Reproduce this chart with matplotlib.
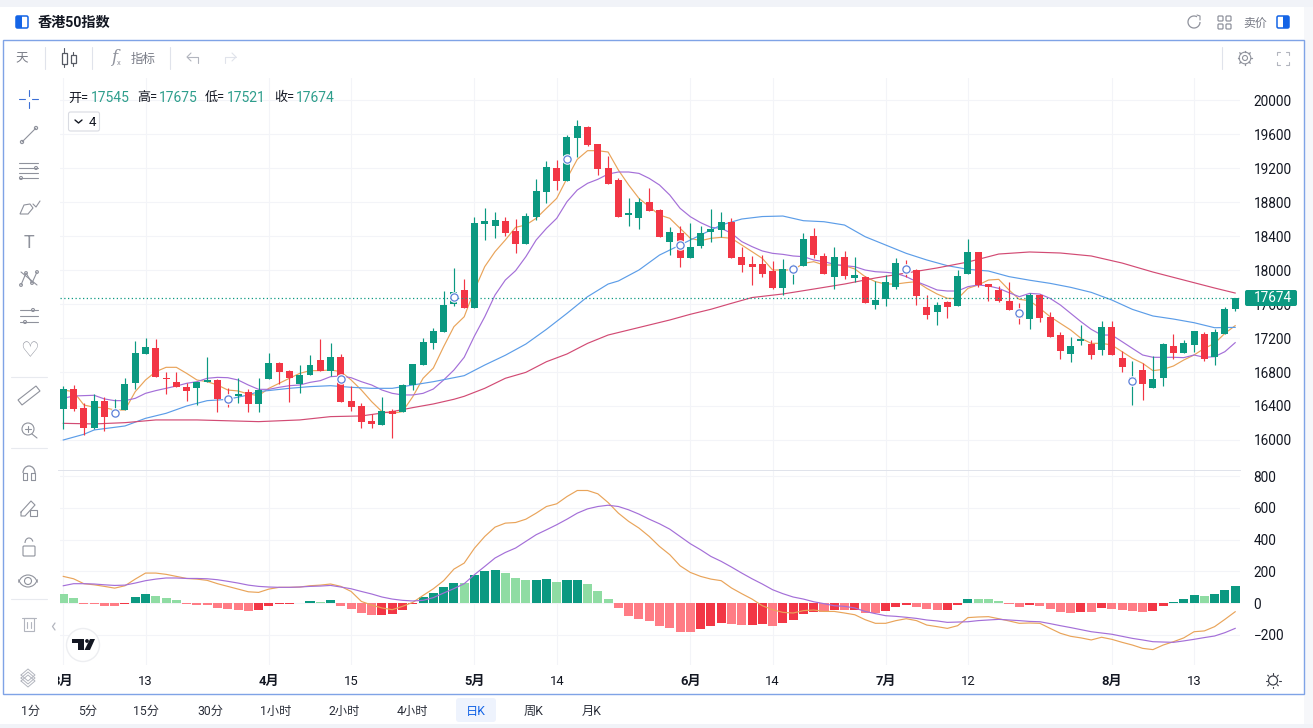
import matplotlib
matplotlib.use('Agg')
import math
import matplotlib.pyplot as plt
from matplotlib.patches import Rectangle, FancyBboxPatch, Circle, Polygon, Arc
from matplotlib.transforms import Bbox

plt.rcParams['font.family'] = ['Roboto', 'Noto Sans CJK SC', 'DejaVu Sans']
plt.rcParams['axes.unicode_minus'] = False

# K-line values
opens = [16369,16596,16377,16141,16459,16283,16353,16675,17008,17082,
         16730,16682,16620,16616,16686,16706,16510,16518,16565,16428,
         16722,16906,16812,16663,16769,16941,16812,16976,16459,16400,
         16220,16177,16341,16334,16647,16886,17141,17270,17600,17765,
         17553,18541,18518,18577,18459,18306,18620,18922,19200,19051,
         19557,19682,19482,19200,19059,18647,18612,18796,18702,18334,
         18432,18145,18283,18443,18471,18565,18153,18071,18071,17992,
         17788,18000,18047,18400,18165,17922,18153,17910,17918,17592,
         17663,17804,18040,18000,17561,17506,17624,17577,17953,18212,
         17835,17769,17635,17480,17423,17706,17447,17235,17012,17165,
         17129,17059,17329,16965,16700,16820,16612,16729,17106,17024,
         17118,17247,16976,17247,17545]
closes = [16596,16369,16141,16459,16275,16353,16659,17024,17094,16741,
          16718,16628,16577,16686,16706,16486,16470,16541,16428,16588,
          16906,16804,16733,16761,16882,16812,16976,16451,16388,16212,
          16188,16341,16302,16647,16894,17153,17282,17588,17741,17553,
          18549,18577,18588,18439,18306,18635,18929,19212,19051,19564,
          19694,19470,19192,19012,18624,18671,18796,18694,18388,18443,
          18145,18271,18432,18479,18561,18145,18059,18040,17953,17788,
          18012,18040,18365,18180,17953,18153,17929,17941,17616,17647,
          17859,18082,18000,17694,17471,17588,17565,17929,18212,17820,
          17800,17635,17530,17430,17706,17439,17216,17051,17106,17192,
          16999,17329,16999,16859,16745,16659,16718,17129,17024,17141,
          17282,16953,17270,17541,17674]
highs = [16635,16643,16432,16541,16502,16479,16730,17165,17200,17188,
         16804,16800,16667,16686,16980,16714,16608,16730,16596,16730,
         17024,16918,16824,16882,17000,17188,17141,17012,16635,16432,
         16306,16502,16361,16659,16894,17200,17320,17753,18023,17894,
         18627,18726,18682,18620,18600,18675,19070,19282,19294,19588,
         19764,19694,19482,19341,19082,18843,18843,18961,18714,18502,
         18522,18557,18522,18714,18678,18608,18267,18165,18180,18106,
         18125,18070,18431,18490,18196,18267,18220,18157,17929,17871,
         17941,18141,18118,18008,17706,17620,17631,18000,18365,18212,
         17835,17812,17859,17608,17733,17717,17502,17274,17216,17353,
         17176,17400,17400,17047,16929,16910,16988,17145,17247,17176,
         17282,17270,17306,17565,17675]
lows = [16134,16345,16063,16126,16110,16267,16353,16596,17008,16741,
        16541,16620,16463,16408,16686,16334,16392,16439,16334,16334,
        16722,16659,16451,16557,16769,16812,16753,16451,16341,16141,
        16141,16177,16024,16334,16588,16886,17066,17270,17576,17553,
        17553,18353,18373,18400,18196,18306,18588,18792,18941,19051,
        19333,19463,19118,19012,18620,18522,18483,18694,18384,18173,
        18032,18145,18255,18334,18384,18137,17980,17824,17922,17773,
        17702,17835,18047,18137,17953,17776,17898,17863,17608,17545,
        17580,17776,17922,17588,17424,17353,17432,17577,17953,17804,
        17635,17624,17530,17365,17310,17392,17216,16953,16922,17118,
        16953,17004,16999,16804,16412,16471,16612,16635,16953,17024,
        17040,16929,16882,17247,17521]

# moving averages
ma_fast = [16588,16569,16412,16385,16381,16353,16353,16569,16706,16804,
           16855,16855,16784,16706,16686,16647,16588,16577,16541,16522,
           16608,16667,16726,16784,16816,16816,16824,16804,16706,16588,
           16451,16334,16314,16334,16510,16726,16847,17098,17333,17450,
           17765,18040,18216,18353,18502,18530,18608,18726,18843,19078,
           19302,19404,19404,19388,19176,19000,18843,18745,18647,18608,
           18490,18373,18345,18373,18384,18373,18294,18216,18137,18000,
           18000,18000,18078,18098,18059,18059,18051,18012,17922,17863,
           17835,17835,17851,17863,17784,17718,17667,17663,17784,17824,
           17882,17890,17765,17655,17639,17549,17451,17372,17294,17196,
           17137,17137,17118,17039,16961,16902,16816,16831,16871,16941,
           17000,17078,17137,17255,17345]
ma_mid = [16490,16518,16522,16526,16483,16463,16463,16490,16549,16581,
          16608,16635,16667,16686,16726,16737,16733,16706,16647,16596,
          16596,16620,16639,16647,16678,16698,16745,16753,16733,16686,
          16647,16588,16549,16530,16530,16549,16600,16706,16823,16973,
          17224,17450,17706,17882,17992,18157,18353,18490,18608,18804,
          18941,19020,19067,19129,19153,19153,19137,19078,19000,18882,
          18726,18627,18557,18502,18490,18432,18334,18275,18224,18196,
          18184,18165,18157,18118,18098,18067,18051,18039,18000,17980,
          17973,17961,17922,17863,17816,17765,17753,17753,17804,17824,
          17812,17784,17733,17686,17725,17717,17666,17588,17490,17392,
          17302,17235,17235,17157,17078,17000,16973,16973,16973,16969,
          17000,16973,16980,17039,17145]
ma_slow_idx = [0,2,3,6,8,10,12,14,16,18,19,22,24,26,28,30,32,34,36,38,39,41,43,45,47,49,51,53,54,
               56,58,60,62,64,66,68,70,72,74,76,78,
               80,82,84,86,88,90,92,94,96,98,100,102,104,106,108,110,112,114]
ma_slow = [16000,16067,16118,16165,16255,16314,16400,16463,16478,16530,16569,16608,
           16628,16639,16620,16608,16608,16647,16686,16733,16757,16882,16997,17129,17302,17490,17686,17835,17871,
           18000,18176,18294,18412,18529,18600,18629,18635,18580,18568,18529,18392,
           18294,18196,18118,18051,18008,17988,17922,17880,17843,17796,17737,17647,
           17537,17459,17423,17380,17321,17325]
ma_long_idx = [0,3,6,9,13,19,23,26,29,32,34,36,38,39,41,43,45,47,49,51,53,55,57,59,61,63,65,67,70,73,76,
               79,82,85,88,91,94,97,100,103,106,109,112,114]
ma_long = [16196,16189,16204,16236,16236,16216,16236,16275,16283,16334,16381,16424,16479,16514,16608,16726,
           16796,16921,17012,17137,17235,17294,17353,17412,17479,17538,17608,17676,17718,17776,17835,
           17906,17965,18024,18094,18188,18212,18200,18165,18082,17976,17882,17788,17729]

event_idx = [5,16,27,38,49,60,71,82,93,104]
event_price = [16318,16482,16718,17688,19306,18294,18012,18012,17494,16694]

# MACD pane
hist = [59,34,-3,-4,-17,-18,-4,40,59,46,
        34,21,-3,-11,-12,-29,-36,-42,-48,-42,
        -17,-4,-3,-2,15,8,21,-17,-36,-61,
        -74,-73,-67,-42,-4,40,65,103,128,126,
        179,204,210,191,160,147,148,154,135,147,
        148,122,78,27,-34,-80,-99,-111,-143,-156,
        -181,-182,-162,-143,-124,-130,-137,-136,-135,-143,
        -124,-105,-67,-55,-56,-42,-43,-42,-63,-65,
        -50,-25,-13,-25,-38,-44,-43,-13,25,24,
        23,13,-3,-25,-13,-19,-38,-57,-63,-57,
        -58,-32,-38,-44,-50,-57,-50,-19,6,25,
        50,44,57,82,107]
macd_line = [168,153,122,115,105,94,109,151,189,189,
             181,168,155,151,143,122,105,88,71,67,
             88,99,99,101,109,113,120,105,73,10,
             -13,-31,-42,-21,4,48,90,141,214,252,
             346,420,479,504,508,529,567,609,626,672,
             710,710,689,634,567,515,473,420,357,305,
             235,193,168,151,141,95,59,25,-17,-42,
             -59,-63,-48,-44,-53,-53,-63,-74,-105,-128,
             -128,-111,-99,-111,-139,-149,-160,-143,-92,-88,
             -86,-99,-113,-128,-126,-128,-160,-191,-210,-220,
             -233,-216,-229,-248,-265,-286,-294,-265,-244,-220,
             -181,-176,-149,-103,-55]
signal_line = [109,122,122,120,115,111,113,126,141,151,
               158,158,155,155,153,147,137,126,113,105,
               101,99,99,101,105,107,111,101,90,73,
               57,38,25,17,13,17,34,63,91,122,
               179,231,284,319,347,389,431,462,494,529,
               567,594,609,617,609,588,561,529,500,466,
               420,374,336,294,263,227,189,153,120,84,
               59,38,25,8,-4,-17,-21,-31,-53,-67,
               -80,-84,-90,-97,-107,-113,-122,-120,-118,-111,
               -107,-103,-107,-111,-116,-118,-130,-143,-155,-168,
               -181,-189,-197,-210,-223,-233,-244,-246,-248,-239,
               -229,-218,-208,-187,-160]

price_ticks = [16000,16400,16800,17200,17600,18000,18400,18800,19200,19600,20000]
macd_ticks = [-200,0,200,400,600,800]
time_ticks = [0,8,20,28,40,48,61,69,80,88,102,110]
time_labels = ['3月','13','4月','15','5月','14','6月','14','7月','12','8月','13']
intervals = ['1分','5分','15分','30分','1小时','2小时','4小时','日K','周K','月K']
interval_x = [31,88,146,210,276,344,412,476,534,592]

GREEN, RED = '#0B9981', '#F23645'
LIGHT_GREEN, PINK = '#8FDCA3', '#FF7C85'
ORANGE, PURPLE, BLUE, CRIMSON = '#E9A45A', '#A46FD8', '#5C9DE8', '#D24B74'
GRID, TEXT, GRAY, ICON = '#F3F4F8', '#131722', '#787B86', '#8F929C'
W, H = 1313, 728

fig = plt.figure(figsize=(W / 100, H / 100), dpi=100, facecolor='white')


def pane(x0, y0, x1, y1):
    return fig.add_axes([x0 / W, 1 - y1 / H, (x1 - x0) / W, (y1 - y0) / H])


xs = list(range(len(opens)))
xlim = (-0.32, 114.47)

# candle pane
ax = pane(60, 78, 1240, 470)
ax.set_xlim(xlim)
ax.set_ylim(15647, 20259)
ax.plot(xs, ma_fast, color=ORANGE, lw=0.85, zorder=2)
ax.plot(xs, ma_mid, color=PURPLE, lw=0.85, zorder=2)
ax.plot(ma_slow_idx, ma_slow, color=BLUE, lw=0.85, zorder=2)
ax.plot(ma_long_idx, ma_long, color=CRIMSON, lw=0.85, zorder=2)
colors = [GREEN if c >= o else RED for o, c in zip(opens, closes)]
ax.vlines(xs, lows, highs, colors=colors, lw=0.85, zorder=3)
ax.bar(xs, [abs(c - o) for o, c in zip(opens, closes)], bottom=[min(o, c) for o, c in zip(opens, closes)],
       width=0.68, color=colors, linewidth=0, zorder=3)
ax.scatter(event_idx, event_price, s=58, color='white', linewidth=0, zorder=4)
ax.scatter(event_idx, event_price, s=27, facecolor='white', edgecolor='#5B7FD8', linewidth=0.9, zorder=5)
ax.axhline(closes[-1], color=GREEN, lw=0.9, ls=(0, (1, 2)), zorder=4)
ax.set_yticks(price_ticks)
ax.set_yticklabels([str(t) for t in price_ticks])

# MACD pane
ax2 = pane(60, 471, 1240, 665)
ax2.set_xlim(xlim)
ax2.set_ylim(-391, 833)
bar_colors = []
for i, v in enumerate(hist):
    rising = i > 0 and v > hist[i - 1]
    if v >= 0:
        bar_colors.append(GREEN if rising else LIGHT_GREEN)
    else:
        bar_colors.append(RED if rising else PINK)
ax2.bar(xs, hist, width=0.88, color=bar_colors, linewidth=0, zorder=2)
ax2.plot(xs, macd_line, color=ORANGE, lw=0.85, zorder=3)
ax2.plot(xs, signal_line, color=PURPLE, lw=0.85, zorder=3)
ax2.set_yticks(macd_ticks)
ax2.set_yticklabels([str(t).replace('-', '−') for t in macd_ticks])

for a in (ax, ax2):
    a.set_axisbelow(True)
    a.set_xticks(time_ticks)
    a.grid(True, color=GRID, lw=0.8)
    a.yaxis.tick_right()
    a.tick_params(axis='y', length=0, pad=9.8, labelsize=9.8, labelcolor=TEXT)
    a.tick_params(axis='x', length=0)
    for s in a.spines.values():
        s.set_visible(False)
ax.tick_params(axis='x', labelbottom=False)
ax2.set_xticklabels(time_labels)
ax2.tick_params(axis='x', pad=7.0, labelsize=9.4, labelcolor=TEXT)
clip = Bbox([[57.5, 0], [W, H]])
for lab, s in zip(ax2.get_xticklabels(), time_labels):
    lab.set_fontweight('bold' if '月' in s else 'normal')
    lab.set_clip_box(clip)
    lab.set_clip_on(True)

# page chrome, drawn in pixel coordinates
ui = fig.add_axes([0, 0, 1, 1], facecolor='none', zorder=10)
ui.set_xlim(0, W)
ui.set_ylim(H, 0)
ui.axis('off')

ui.add_patch(Rectangle((0, 0), W, 7, color='#F1F3F8', lw=0))
ui.add_patch(Rectangle((0, 724), W, 4, color='#F1F3F8', lw=0))
ui.add_patch(Rectangle((1304, 7), 9, 717, color='#F6F7FA', lw=0))
ui.add_patch(Rectangle((2.5, 39.5), 1301, 654.5, fill=False, ec='#7FA3E6', lw=1.0))
ui.plot([58, 1240], [470, 470], color='#E0E3EB', lw=0.7)


def half_icon(x, y, left):
    ui.add_patch(FancyBboxPatch((x + 1, y + 1), 12, 12, boxstyle='round,pad=0,rounding_size=1.5',
                                fc='white', ec='#1464E6', lw=1.1))
    ui.add_patch(Rectangle((x + 1 if left else x + 7, y + 1), 6, 12, color='#1464E6', lw=0))


def stroke(px, py, c=ICON, lw=0.8):
    ui.plot(px, py, color=c, lw=lw, solid_capstyle='round')


def ring(x, y, r, c=ICON, lw=0.8):
    ui.add_patch(Circle((x, y), r, fill=False, ec=c, lw=lw))


half_icon(15, 15, True)
half_icon(1276, 15, False)
ui.text(38, 23, '香港50指数', fontsize=10.2, fontweight='bold', color=TEXT, va='center', ha='left')
ui.text(1243, 23, '卖价', fontsize=8.6, color=GRAY, va='center', ha='left')
ui.add_patch(Arc((1194, 22), 12, 12, theta1=0, theta2=300, ec=ICON, lw=0.9))
stroke([1197, 1200, 1200], [15, 16, 20])
for gx in (1218, 1226):
    for gy in (16, 24):
        ui.add_patch(FancyBboxPatch((gx, gy), 5, 5, boxstyle='round,pad=0,rounding_size=1', fill=False, ec=ICON, lw=0.9))

# top toolbar
ui.text(22, 59, '天', fontsize=9, color=GRAY, va='center', ha='center')
for sx in (44.5, 91.5, 169.5, 1221.5):
    stroke([sx, sx], [47, 69], c='#E0E3EB', lw=0.8)
for cx, y0, y1, h0, h1 in ((64, 53, 64, 48, 67), (73, 55, 63, 52, 66)):
    ui.add_patch(Rectangle((cx - 2.5, y0), 5, y1 - y0, fill=False, ec='#555963', lw=0.9))
    stroke([cx, cx], [h0, y0], c='#555963')
    stroke([cx, cx], [y1, h1], c='#555963')
ui.text(114, 58, 'f', fontsize=12, style='italic', color=ICON, va='center', ha='center', family='DejaVu Serif')
ui.text(119, 63, 'x', fontsize=5.5, color=ICON, va='center', ha='center')
ui.text(143, 59, '指标', fontsize=9, color=GRAY, va='center', ha='center')
stroke([187, 192, 198, 198], [57, 57, 57, 63], c='#B2B5BE')
stroke([191, 187, 191], [53, 57, 61], c='#B2B5BE')
stroke([236, 231, 225, 225], [57, 57, 57, 63], c='#E0E3EB')
stroke([232, 236, 232], [53, 57, 61], c='#E0E3EB')
ring(1245, 58, 2.5, c=ICON)
ring(1245, 58, 5.8, c=ICON)
for k in range(8):
    t = k * math.pi / 4
    stroke([1245 + 5.8 * math.cos(t), 1245 + 7.4 * math.cos(t)], [58 + 5.8 * math.sin(t), 58 + 7.4 * math.sin(t)], lw=1.0)
for fx, fy, dx, dy in ((1277, 52, 1, 1), (1289, 52, -1, 1), (1277, 65, 1, -1), (1289, 65, -1, -1)):
    stroke([fx + 3 * dx, fx, fx], [fy, fy, fy + 3 * dy], c='#B2B5BE')

# OHLC legend
legend_items = [(68, '开=', opens[-1], 91), (137, '高=', highs[-1], 159), (205, '低=', lows[-1], 227), (274, '收=', closes[-1], 296)]
for lx, name, val, vx in legend_items:
    ui.text(lx, 98, name, fontsize=9.4, color=TEXT, va='center', ha='left')
    ui.text(vx, 98, str(val), fontsize=10, color='#2E9E8C', va='center', ha='left')
ui.add_patch(FancyBboxPatch((68.5, 112), 31, 19, boxstyle='round,pad=0,rounding_size=2', fc='white', ec='#D9DBE2', lw=0.8))
stroke([75, 78.5, 82], [120, 123, 120], c=TEXT, lw=1.0)
ui.text(92, 122, '4', fontsize=9.6, color=TEXT, va='center', ha='center')

# left drawing tools
stroke([28.5, 28.5], [90, 96], c='#3B6FD6')
stroke([28.5, 28.5], [102, 108], c='#3B6FD6')
stroke([19, 25], [99, 99], c='#3B6FD6')
stroke([32, 38], [99, 99], c='#3B6FD6')
stroke([22, 36], [142, 128])
ring(22, 142, 1.6)
ring(36, 128, 1.6)
for ly in (163, 168, 173, 178):
    stroke([19, 38], [ly, ly])
ring(36, 168, 1.5)
ring(21, 178, 1.5)
ui.add_patch(Polygon([[20, 214], [24, 205], [30, 204], [33, 208], [28, 214]], fill=False, ec=ICON, lw=0.8))
stroke([33, 36, 40], [204, 207, 201])
ui.text(29, 243, 'T', fontsize=13, color=ICON, va='center', ha='center')
stroke([21, 26, 32, 37], [285, 273, 283, 272])
stroke([21, 37], [272, 285])
for mx, my in ((21, 285), (26, 273), (32, 283), (37, 272)):
    ring(mx, my, 1.4)
for ly in (310, 316, 322):
    stroke([20, 38], [ly, ly])
ring(33, 310, 1.5)
ring(25, 322, 1.5)
ui.text(29, 351, '♡', fontsize=15, color=ICON, va='center', ha='center', family='DejaVu Sans')
stroke([11, 47], [377, 377], c='#E8EAEF')
ui.add_patch(Polygon([[18, 400], [36, 386], [40, 391], [22, 405]], fill=False, ec=ICON, lw=0.8))
ring(28, 429, 6)
stroke([32, 37], [434, 438])
stroke([25, 31], [429, 429])
stroke([28, 28], [426, 432])
stroke([11, 47], [448, 448], c='#E8EAEF')
ui.add_patch(Arc((29, 473), 12, 14, theta1=180, theta2=360, ec=ICON, lw=0.9))
stroke([23, 23, 27, 27, 23], [473, 480, 480, 473, 473])
stroke([31, 31, 35, 35, 31], [473, 480, 480, 473, 473])
stroke([21, 31, 35, 25, 21, 21], [512, 501, 505, 516, 516, 512])
ui.add_patch(Rectangle((30, 510), 7, 6, fill=False, ec=ICON, lw=0.8))
ui.add_patch(FancyBboxPatch((23, 546), 12, 10, boxstyle='round,pad=0,rounding_size=1', fill=False, ec=ICON, lw=0.8))
ui.add_patch(Arc((29, 543), 8, 10, theta1=180, theta2=340, ec=ICON, lw=0.8))
ui.add_patch(Arc((28, 586), 20, 22, theta1=200, theta2=340, ec=ICON, lw=0.8))
ui.add_patch(Arc((28, 576), 20, 22, theta1=20, theta2=160, ec=ICON, lw=0.8))
ring(28, 581, 3.5)
stroke([11, 47], [599, 599], c='#E8EAEF')
stroke([22, 36], [618, 618], c='#B2B5BE')
ui.add_patch(Rectangle((24, 618), 10, 13, fill=False, ec='#B2B5BE', lw=0.8))
stroke([26.5, 26.5], [622, 628], c='#B2B5BE')
stroke([31, 31], [622, 628], c='#B2B5BE')
stroke([55, 52.5, 55], [623, 626.5, 630], c='#B2B5BE', lw=0.9)
for ly in (675, 678, 681):
    stroke([21, 28, 35, 28, 21], [ly, ly - 6, ly, ly + 6, ly], c='#B2B5BE', lw=0.7)
# TV logo badge
ui.add_patch(Circle((83, 645), 16.5, fc='white', ec='#EDEEF1', lw=1.0))
ui.add_patch(Polygon([[72, 639], [84, 639], [84, 650], [78, 650], [78, 643], [72, 643]], color=TEXT, lw=0))
ui.add_patch(Circle((87, 641), 1.9, color=TEXT, lw=0))
ui.add_patch(Polygon([[90, 639], [95, 639], [90, 650], [84.5, 650]], color=TEXT, lw=0))

# last price tag
ui.add_patch(FancyBboxPatch((1245, 290), 52, 16, boxstyle='round,pad=0,rounding_size=2', color=GREEN, lw=0))
ui.text(1273, 298.3, str(closes[-1]), fontsize=9.8, color='white', va='center', ha='center')

# settings sun
ring(1273, 680.5, 4.5, c='#3C3F49', lw=0.9)
for dx, dy in ((0, -7.5), (0, 7.5), (-7.5, 0), (7.5, 0), (-5.3, -5.3), (5.3, -5.3), (-5.3, 5.3), (5.3, 5.3)):
    stroke([1273 + dx * 0.8, 1273 + dx], [680.5 + dy * 0.8, 680.5 + dy], c='#3C3F49')

# interval buttons
ui.add_patch(FancyBboxPatch((456, 698), 40, 24, boxstyle='round,pad=0,rounding_size=3', color='#EEF3FD', lw=0))
for bx, s in zip(interval_x, intervals):
    on = s == '日K'
    ui.text(bx, 711.5, s, fontsize=8.8, color='#1464E6' if on else '#2A2E39', va='center', ha='center')

fig.savefig('out.png', dpi=100)
